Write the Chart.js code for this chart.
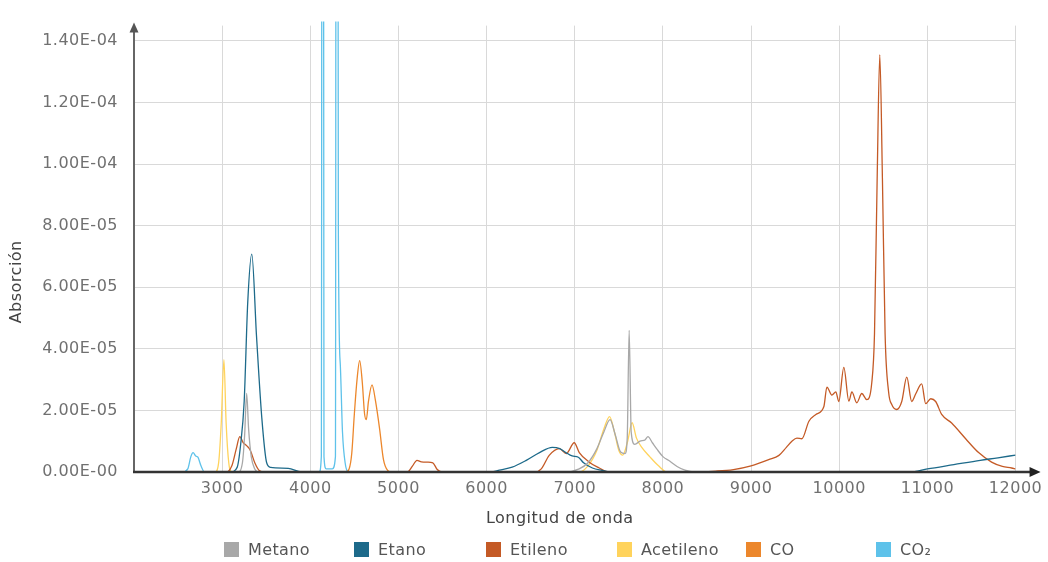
<!DOCTYPE html>
<html>
<head>
<meta charset="utf-8">
<script src="https://cdn.jsdelivr.net/npm/chart.js@4.4.1/dist/chart.umd.min.js"></script>
<style>
  html, body { margin: 0; padding: 0; background: #fff; }
  #wrap { position: relative; width: 1048px; height: 562px; }
  #legend { position: absolute; left: 0; top: 541px; width: 1048px; height: 18px;
            font: 16px "DejaVu Sans", sans-serif; color: #555; letter-spacing: 0.4px; }
  .item { position: absolute; top: 0; height: 18px; line-height: 18px; white-space: nowrap; }
  .box { display: inline-block; width: 15px; height: 15px; vertical-align: -2px; margin-right: 9px; }
</style>
</head>
<body>
<div id="wrap">
  <canvas id="c" width="1048" height="562"></canvas>
  <div id="legend"></div>
</div>
<script>
// Absorption spectra of common gases; absorption values are given in units of 1e-5.
const UNIT = 1e-5;

const seriesNames = ['Metano', 'Etano', 'Etileno', 'Acetileno', 'CO', 'CO₂'];
const seriesColors = ['#a8a8a8', '#1d6a8a', '#c45a26', '#ffd35c', '#ec872c', '#5ec2ea'];
const legendLeft = [224, 354, 486, 617, 746, 876];

const xTicks = [3000, 4000, 5000, 6000, 7000, 8000, 9000, 10000, 11000, 12000];
const yTicks = [0, 2e-5, 4e-5, 6e-5, 8e-5, 1e-4, 1.2e-4, 1.4e-4];
const yTickLabels = ['0.00E-00', '2.00E-05', '4.00E-05', '6.00E-05', '8.00E-05', '1.00E-04', '1.20E-04', '1.40E-04'];

// [wavelength, absorption]
const metano = [
  [2000, 0], [3180, 0], [3230, 0.3], [3255, 1.2], [3278, 2.55], [3300, 1.4], [3330, 0.5], [3370, 0.1], [3420, 0],
  [6900, 0], [7050, 0.1], [7150, 0.3], [7250, 0.75], [7330, 1.3], [7400, 1.7], [7460, 1.2], [7520, 0.65],
  [7570, 0.6], [7595, 1.1], [7617, 4.6], [7640, 1.3], [7680, 0.9], [7740, 1.0], [7800, 1.05], [7830, 1.15],
  [7880, 0.95], [7930, 0.75], [8000, 0.5], [8080, 0.35], [8160, 0.18], [8250, 0.06], [8350, 0], [12000, 0]
];

const etano = [
  [2000, 0], [3100, 0], [3170, 0.15], [3210, 0.9], [3250, 2.3], [3290, 5.5], [3336, 7.08], [3390, 4.4],
  [3450, 1.75], [3505, 0.3], [3550, 0.15], [3750, 0.12], [3900, 0],
  [6050, 0], [6145, 0.06], [6290, 0.16], [6450, 0.38], [6600, 0.63], [6745, 0.8], [6830, 0.76], [6900, 0.63],
  [6970, 0.52], [7040, 0.48], [7100, 0.3], [7200, 0.13], [7310, 0.05], [7400, 0],
  [10820, 0], [11000, 0.1], [11300, 0.24], [11600, 0.38], [11800, 0.46], [12000, 0.55]
];

const etileno = [
  [2000, 0], [3050, 0], [3110, 0.2], [3160, 0.75], [3200, 1.15], [3240, 0.95], [3280, 0.85], [3320, 0.7],
  [3370, 0.3], [3420, 0.05], [3480, 0],
  [5100, 0], [5160, 0.2], [5210, 0.38], [5260, 0.33], [5330, 0.32], [5390, 0.3], [5440, 0.08], [5500, 0],
  [6550, 0], [6620, 0.1], [6710, 0.54], [6824, 0.76], [6904, 0.6], [6994, 0.95], [7051, 0.63], [7164, 0.32],
  [7277, 0.13], [7380, 0],
  [8300, 0], [8600, 0.03], [8800, 0.08], [9000, 0.2], [9200, 0.4], [9316, 0.54], [9400, 0.8], [9463, 1.0],
  [9520, 1.1], [9576, 1.08], [9656, 1.65], [9735, 1.87], [9826, 2.13], [9860, 2.76], [9916, 2.5], [9961, 2.6],
  [9995, 2.29], [10052, 3.4], [10109, 2.3], [10143, 2.6], [10199, 2.25], [10256, 2.55], [10313, 2.35],
  [10369, 2.9], [10400, 4.5], [10430, 9.5], [10460, 13.55], [10490, 9.5], [10520, 4.5], [10560, 2.6],
  [10596, 2.19], [10652, 2.03], [10709, 2.29], [10766, 3.08], [10822, 2.29], [10868, 2.54], [10935, 2.86],
  [10981, 2.22], [11038, 2.38], [11094, 2.29], [11162, 1.87], [11275, 1.59], [11434, 1.08], [11581, 0.63],
  [11728, 0.32], [11850, 0.18], [11955, 0.13], [12000, 0.1]
];

const acetileno = [
  [2000, 0], [2920, 0], [2960, 0.3], [2990, 1.6], [3020, 3.65], [3045, 1.6], [3075, 0.3], [3110, 0],
  [7050, 0], [7150, 0.2], [7250, 0.7], [7330, 1.4], [7395, 1.8], [7450, 1.3], [7500, 0.7], [7545, 0.55],
  [7600, 1.0], [7650, 1.6], [7700, 1.1], [7760, 0.8], [7850, 0.5], [7950, 0.2], [8050, 0], [12000, 0]
];

const co = [
  [2000, 0], [4400, 0], [4440, 0.1], [4470, 0.6], [4500, 1.9], [4530, 3.0], [4560, 3.62], [4590, 2.9],
  [4615, 1.9], [4635, 1.7], [4660, 2.3], [4700, 2.83], [4740, 2.3], [4786, 1.4], [4830, 0.4], [4877, 0.05],
  [4920, 0], [12000, 0]
];

const co2 = [
  [2000, 0], [2550, 0], [2610, 0.1], [2645, 0.5], [2670, 0.63], [2700, 0.52], [2725, 0.48], [2760, 0.2],
  [2800, 0], [4100, 0], [4125, 0.5], [4140, 60], [4155, 0.5], [4180, 0.1], [4250, 0.1], [4285, 0.5],
  [4300, 60], [4318, 8], [4340, 3.5], [4365, 1.3], [4395, 0.3], [4440, 0], [12000, 0]
];

const seriesData = [metano, etano, etileno, acetileno, co, co2];

const FONT = '"DejaVu Sans", sans-serif';

const datasets = seriesData.map((pts, i) => ({
  label: seriesNames[i],
  data: pts.map(([x, v]) => ({ x: x, y: v * UNIT })),
  borderColor: seriesColors[i],
  backgroundColor: seriesColors[i],
  borderWidth: 1.3,
  pointRadius: 0,
  fill: false,
  cubicInterpolationMode: 'monotone',
  clip: { left: 0, top: 4, right: 0, bottom: 0 }
}));

// Axis lines with arrowheads and the two axis titles
const axisDecor = {
  id: 'axisDecor',
  beforeDraw(chart) {
    chart.ctx.letterSpacing = '0.5px';
  },
  afterDatasetsDraw(chart) {
    const { ctx, chartArea } = chart;
    const x0 = chartArea.left, y0 = chartArea.bottom;
    ctx.save();
    // vertical axis
    ctx.strokeStyle = '#666';
    ctx.lineWidth = 2;
    ctx.beginPath();
    ctx.moveTo(x0, y0);
    ctx.lineTo(x0, chartArea.top + 4);
    ctx.stroke();
    ctx.fillStyle = '#555';
    ctx.beginPath();
    ctx.moveTo(x0, chartArea.top - 3);
    ctx.lineTo(x0 - 4.5, chartArea.top + 7);
    ctx.lineTo(x0 + 4.5, chartArea.top + 7);
    ctx.closePath();
    ctx.fill();
    // horizontal axis
    ctx.strokeStyle = '#333';
    ctx.lineWidth = 2.6;
    ctx.beginPath();
    ctx.moveTo(x0 - 1, y0);
    ctx.lineTo(chartArea.right + 16, y0);
    ctx.stroke();
    ctx.fillStyle = '#222';
    ctx.beginPath();
    ctx.moveTo(chartArea.right + 25, y0);
    ctx.lineTo(chartArea.right + 14, y0 - 5);
    ctx.lineTo(chartArea.right + 14, y0 + 5);
    ctx.closePath();
    ctx.fill();
    ctx.restore();
  },
  afterDraw(chart) {
    const { ctx, chartArea } = chart;
    ctx.save();
    ctx.letterSpacing = '0.5px';
    ctx.font = '16px ' + FONT;
    ctx.fillStyle = '#444';
    ctx.textAlign = 'center';
    ctx.textBaseline = 'middle';
    ctx.fillText('Longitud de onda', (chartArea.left + chartArea.right) / 2 - 15, chartArea.bottom + 47);
    ctx.translate(17, (chartArea.top + chartArea.bottom) / 2 + 33);
    ctx.rotate(-Math.PI / 2);
    ctx.fillText('Absorción', 0, 0);
    ctx.restore();
  }
};

const chart = new Chart(document.getElementById('c'), {
  type: 'line',
  data: { datasets: datasets },
  options: {
    responsive: false,
    animation: false,
    devicePixelRatio: 1,
    layout: { padding: { left: 0, right: 31, top: 16, bottom: 0 } },
    plugins: { legend: { display: false }, tooltip: { enabled: false } },
    scales: {
      x: {
        type: 'linear',
        min: 2000,
        max: 12000,
        afterBuildTicks: (s) => { s.ticks = xTicks.map(v => ({ value: v })); },
        afterFit: (s) => { s.height = 90; },
        border: { display: false },
        grid: { color: '#d9d9d9', lineWidth: 1, drawTicks: false },
        ticks: {
          padding: 7,
          maxRotation: 0,
          autoSkip: false,
          color: '#707070',
          font: { family: FONT, size: 16 },
          callback: (v) => String(v)
        }
      },
      y: {
        type: 'linear',
        min: 0,
        max: 1.45e-4,
        afterBuildTicks: (s) => { s.ticks = yTicks.map(v => ({ value: v })); },
        afterFit: (s) => { s.width = 134; },
        border: { display: false },
        grid: { color: '#d9d9d9', lineWidth: 1, drawTicks: false },
        ticks: {
          padding: 16,
          autoSkip: false,
          color: '#707070',
          font: { family: FONT, size: 16 },
          callback: (v) => {
            const i = yTicks.findIndex(t => Math.abs(t - v) < 1e-9);
            return i >= 0 ? yTickLabels[i] : '';
          }
        }
      }
    }
  },
  plugins: [axisDecor]
});

// Legend built from the chart's datasets
const legendEl = document.getElementById('legend');
chart.data.datasets.forEach((ds, i) => {
  const item = document.createElement('div');
  item.className = 'item';
  item.style.left = legendLeft[i] + 'px';
  const box = document.createElement('span');
  box.className = 'box';
  box.style.background = ds.borderColor;
  item.appendChild(box);
  item.appendChild(document.createTextNode(ds.label));
  legendEl.appendChild(item);
});
</script>
</body>
</html>
